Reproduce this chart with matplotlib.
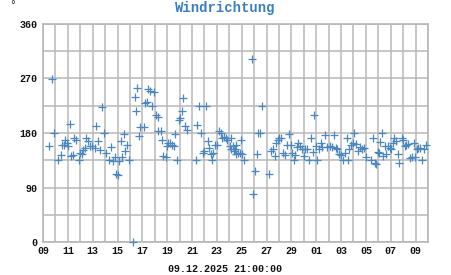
import matplotlib
matplotlib.use("Agg")
import matplotlib.pyplot as plt
import matplotlib.dates as mdates
import numpy as np
import datetime as dt

title = "Windrichtung"
footer = "09.12.2025 21:00:00"
start = dt.datetime(2025, 11, 9)
end = dt.datetime(2025, 12, 10)

# time offset in days since 09.11.2025 00:00
days = [0.45, 0.69, 0.9, 1.17, 1.46, 1.54, 1.7, 1.8, 1.9, 2.0, 2.15, 2.25, 2.39, 2.5, 2.65,
        2.86, 2.97, 3.13, 3.24, 3.4, 3.5, 3.66, 3.82, 3.98, 4.2, 4.3, 4.46, 4.6, 4.72, 4.88,
        5.04, 5.3, 5.5, 5.6, 5.78, 5.9, 6.0, 6.1, 6.26, 6.37, 6.5, 6.63, 6.74, 6.9, 7.27,
        7.37, 7.48, 7.59, 7.75, 7.85, 8.1, 8.2, 8.38, 8.49, 8.6, 8.75, 8.97, 9.07, 9.23, 9.23,
        9.5, 9.6, 9.68, 9.87, 10.0, 10.08, 10.24, 10.4, 10.56, 10.66, 10.8, 10.93, 11.06, 11.2,
        11.3, 11.4, 11.56, 12.3, 12.4, 12.55, 12.73, 12.9, 13.0, 13.15, 13.26, 13.4, 13.5, 13.6,
        13.7, 13.85, 14.0, 14.16, 14.3, 14.4, 14.6, 14.7, 14.85, 15.07, 15.17, 15.4, 15.5,
        15.1, 15.27, 15.43, 15.54, 15.7, 15.86, 15.97, 16.0, 16.2, 16.8, 16.93, 17.04, 17.2,
        17.3, 17.47, 17.63, 18.2, 18.33, 18.49, 18.65, 18.75, 18.9, 19.0, 19.2, 19.34, 19.5,
        19.67, 19.83, 20.0, 20.04, 20.2, 20.3, 20.47, 20.57, 20.68, 20.84, 21.0, 21.1, 21.27,
        21.43, 21.6, 21.7, 21.8, 21.97, 22.08, 22.2, 22.35, 22.5, 22.72, 22.88, 23.1, 23.26,
        23.47, 23.58, 23.69, 23.8, 24.0, 24.17, 24.28, 24.44, 24.55, 24.66, 24.76, 24.93, 25.08,
        25.19, 25.35, 25.5, 25.67, 25.83, 26.0, 26.4, 26.6, 26.74, 26.85, 26.95, 27.06, 27.17,
        27.28, 27.38, 27.54, 27.65, 27.76, 27.9, 28.06, 28.18, 28.3, 28.45, 28.56, 28.7, 28.88,
        29.0, 29.15, 29.26, 29.4, 29.58, 29.69, 29.85, 29.95, 30.1, 30.2, 30.37, 30.53, 30.7,
        30.85]
direction = [158, 269, 180, 135, 143, 160, 161, 168, 164, 158, 195, 142, 143, 171, 169,
             135, 147, 146, 152, 155, 172, 167, 158, 158, 156, 191, 167, 152, 223, 180,
             147, 135, 157, 134, 141, 112, 111, 134, 167, 141, 179, 151, 161, 135, 0,
             239, 216, 254, 175, 190, 190, 230, 231, 253, 250, 224, 247, 210, 206, 183,
             183, 169, 142, 140, 158, 164, 163, 160, 158, 178, 135, 202, 205, 216,
             238, 191, 185, 135, 193, 224, 180, 147, 151, 224, 167, 156, 145, 135,
             147, 160, 161, 183, 180, 171, 173, 171, 169, 158, 153, 150, 146,
             172, 158, 154, 161, 147, 147, 168, 145, 135, 303, 80, 118, 145,
             180, 180, 224, 112, 151, 153, 142, 163, 168, 172, 172, 147, 143,
             160, 178, 160, 147, 135, 143, 157, 164, 158, 154, 142, 154, 153,
             135, 171, 149, 210, 158, 135, 153, 164, 157, 176, 157, 158, 157,
             176, 156, 153, 146, 143, 135, 147, 171, 135, 153, 160, 164, 180,
             162, 151, 157, 154, 156, 141, 135, 172, 131, 129, 149, 147, 165,
             180, 142, 158, 146, 158, 156, 153, 164, 172, 167, 145, 130, 171,
             168, 158, 160, 162, 138, 140, 164, 141, 153, 156, 156, 135, 153,
             160]

x_ticks_days = list(range(0, 31, 2))
y_ticks = [0, 90, 180, 270, 360]

W, H = 451, 275
fig = plt.figure(figsize=(W / 100, H / 100), dpi=100)
ax = fig.add_axes([43 / W, 1 - 242 / H, (428 - 43) / W, (242 - 24) / H])

times = [start + dt.timedelta(days=d) for d in days]
ax.plot(times, direction, linestyle="none", marker="+", markersize=5.5,
        markeredgewidth=0.9, color="#4a86c0", clip_on=False, zorder=3)

ax.set_xlim(start, end)
ax.set_ylim(0, 360)
grid_c = "#b8b8b8"
ax.xaxis.set_major_locator(mdates.DayLocator(interval=1))
ax.set_xticks([start + dt.timedelta(days=d) for d in range(0, 32)])
ax.set_xticklabels([(start + dt.timedelta(days=d)).strftime("%d") if d in x_ticks_days else ""
                    for d in range(0, 32)])
ax.set_yticks(np.arange(0, 361, 45))
ax.set_yticklabels([str(v) if v in y_ticks else "" for v in np.arange(0, 361, 45)])
ax.grid(True, color=grid_c, linewidth=1.1, zorder=0)
ax.set_axisbelow(True)
for s in ax.spines.values():
    s.set_color(grid_c)
    s.set_linewidth(1.2)
ax.tick_params(length=0, pad=4, labelsize=7.2, labelcolor="#111111")
for lab in ax.get_xticklabels() + ax.get_yticklabels():
    lab.set_fontfamily("Liberation Mono")
    lab.set_fontweight("bold")
ax.tick_params(axis="x", pad=3)

fig.text(225.5 / W, 1 - 8 / H, title, ha="center", va="center", fontsize=10,
         fontfamily="Liberation Mono", fontweight="bold", color="#3a80c0")
fig.text(12.5 / W, 1 - 5 / H, "°", ha="center", va="center", fontsize=7,
         fontfamily="DejaVu Sans", color="#222222")
fig.text(225 / W, 1 - 269 / H, footer, ha="center", va="center", fontsize=7.2,
         fontfamily="Liberation Mono", fontweight="bold", color="#111111")

fig.savefig("out.png", dpi=100)
